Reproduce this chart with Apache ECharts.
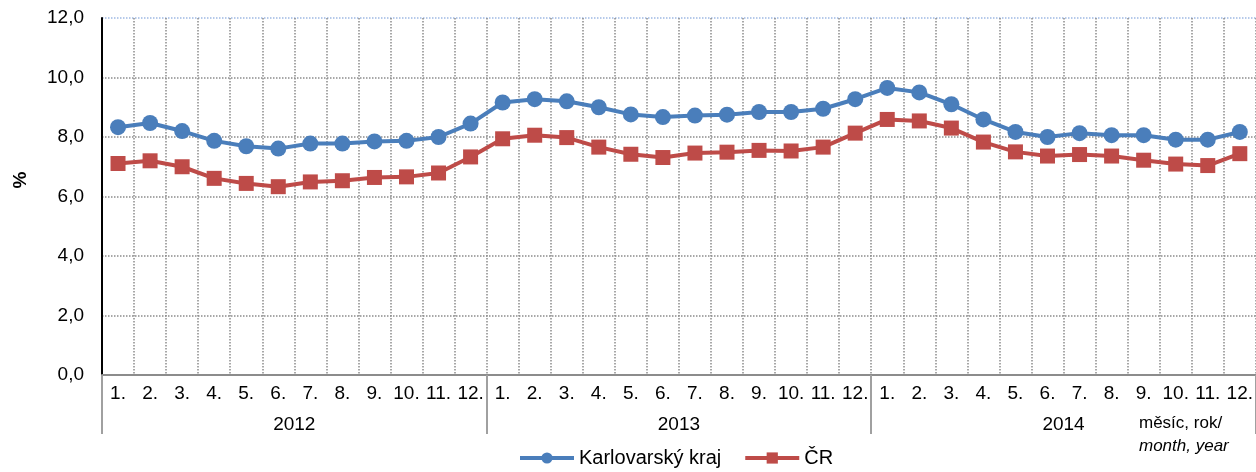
<!DOCTYPE html>
<html>
<head>
<meta charset="utf-8">
<script src="https://cdn.jsdelivr.net/npm/echarts@6/dist/echarts.min.js"></script>
<style>
  html, body { margin: 0; padding: 0; background: #fff; }
  #chart { width: 1256px; height: 472px; }
</style>
</head>
<body>
<div id="chart"></div>
<script>
  var months = ['1.', '2.', '3.', '4.', '5.', '6.', '7.', '8.', '9.', '10.', '11.', '12.',
                '1.', '2.', '3.', '4.', '5.', '6.', '7.', '8.', '9.', '10.', '11.', '12.',
                '1.', '2.', '3.', '4.', '5.', '6.', '7.', '8.', '9.', '10.', '11.', '12.'];
  var years = ['2012', '2013', '2014'];
  var karlovarsky = [8.33, 8.47, 8.2, 7.87, 7.69, 7.61, 7.78, 7.78, 7.85, 7.87, 8.0, 8.45,
                     9.16, 9.27, 9.2, 9.0, 8.76, 8.67, 8.72, 8.75, 8.84, 8.84, 8.95, 9.27,
                     9.65, 9.5, 9.1, 8.59, 8.17, 8.0, 8.13, 8.06, 8.06, 7.91, 7.91, 8.17];
  var cr = [7.11, 7.2, 7.0, 6.61, 6.44, 6.33, 6.49, 6.53, 6.64, 6.66, 6.79, 7.33,
            7.94, 8.06, 7.98, 7.66, 7.42, 7.31, 7.46, 7.49, 7.55, 7.53, 7.66, 8.13,
            8.59, 8.54, 8.3, 7.83, 7.5, 7.36, 7.41, 7.36, 7.22, 7.09, 7.04, 7.44];
  var yTicks = { min: 0, max: 12, interval: 2 };

  var font = 'Liberation Sans, Arial, sans-serif';
  var chart = echarts.init(document.getElementById('chart'));

  var option = {
    animation: false,
    textStyle: { fontFamily: font },
    grid: { left: 102, top: 18, width: 1155, height: 357 },
    legend: {
      left: 513,
      top: 446,
      padding: [2, 5],
      itemWidth: 54,
      itemHeight: 14,
      itemGap: 22,
      lineStyle: { width: 4 },
      textStyle: { fontSize: 20, color: '#000', fontFamily: font },
      data: ['Karlovarský kraj', 'ČR']
    },
    xAxis: [
      {
        type: 'category',
        data: months,
        boundaryGap: true,
        axisLine: { lineStyle: { color: '#8c8c8c', width: 2 } },
        axisTick: { show: false },
        axisLabel: { color: '#000', fontSize: 19, margin: 9, interval: 0, fontFamily: font },
        splitLine: { show: true, interval: 0, lineStyle: { color: '#8c8c8c', type: 'dotted', width: 1.5 } }
      },
      {
        type: 'category',
        data: years,
        position: 'bottom',
        boundaryGap: true,
        axisLine: { show: false },
        axisTick: { show: true, length: 59, lineStyle: { color: '#a0a0a0', width: 2 } },
        axisLabel: { color: '#000', fontSize: 19, margin: 40, fontFamily: font },
        splitLine: { show: false }
      }
    ],
    yAxis: {
      type: 'value',
      min: yTicks.min,
      max: yTicks.max,
      interval: yTicks.interval,
      axisLine: { show: true, lineStyle: { color: '#000', width: 2 } },
      axisTick: { show: false },
      axisLabel: {
        color: '#000', fontSize: 19, margin: 18, fontFamily: font,
        formatter: function (v) { return v.toFixed(1).replace('.', ','); }
      },
      splitLine: {
        lineStyle: {
          color: ['#8c8c8c', '#8c8c8c', '#8c8c8c', '#8c8c8c', '#8c8c8c', '#8c8c8c', '#9fb9e3'],
          type: 'dotted',
          width: 1.5
        }
      }
    },
    graphic: [
      {
        type: 'text', x: 21, y: 180, rotation: Math.PI / 2,
        style: { text: '%', font: 'bold 19px ' + font, fill: '#000', align: 'center', verticalAlign: 'middle' }
      },
      { type: 'text', left: 1139, top: 415, style: { text: 'měsíc, rok/', font: '17px ' + font, fill: '#000' } },
      { type: 'text', left: 1139, top: 438, style: { text: 'month, year', font: 'italic 17px ' + font, fill: '#000' } }
    ],
    series: [
      {
        name: 'Karlovarský kraj',
        type: 'line',
        data: karlovarsky,
        symbol: 'circle',
        symbolSize: 16,
        lineStyle: { width: 4, color: '#4a7ebb' },
        itemStyle: { color: '#4a7ebb' }
      },
      {
        name: 'ČR',
        type: 'line',
        data: cr,
        symbol: 'rect',
        symbolSize: 15,
        lineStyle: { width: 4, color: '#be4b48' },
        itemStyle: { color: '#be4b48' }
      }
    ]
  };

  chart.setOption(option);
</script>
</body>
</html>
